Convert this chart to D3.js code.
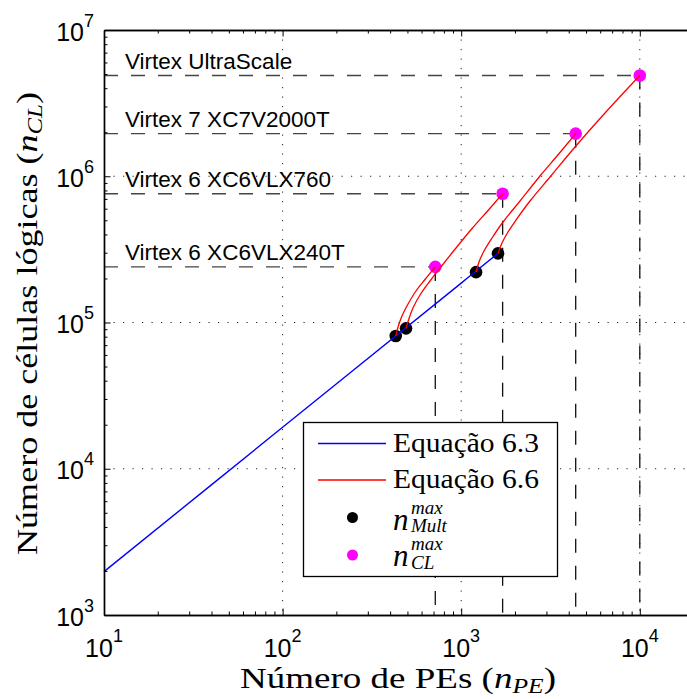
<!DOCTYPE html>
<html lang="pt">
<head>
<meta charset="UTF-8">
<title>Número de células lógicas vs número de PEs</title>
<script src="https://d3js.org/d3.v7.min.js"></script>
<style>
  body { margin: 0; background: #fff; }
  svg { display: block; }
  .sans { font-family: "Liberation Sans", Arial, sans-serif; fill: #000; }
  .serif { font-family: "Liberation Serif", "Times New Roman", serif; fill: #000; }
</style>
</head>
<body>
<svg id="chart" width="687" height="699"></svg>
<script>
// ---- values ----
// Equação 6.3 (blue line)
const eq63PE = [10, 100, 1000, 1607];
const eq63CL = [1980, 19200, 186000, 297000];

// Equação 6.6 (red curves), one per device, from n_Mult^max to n_CL^max
const eq66PE = [
  [430, 443, 466, 504, 558, 627, 716],
  [491, 507, 537, 588, 669, 781, 935, 1150, 1413, 1706],
  [1211, 1258, 1342, 1488, 1714, 2134, 2762, 3439, 4376],
  [1607, 1692, 1828, 2027, 2428, 3143, 4337, 6387, 10000]
];
const eq66CL = [
  [80900, 93200, 110800, 133800, 164200, 196800, 240000],
  [91200, 104000, 125700, 154200, 192200, 245300, 323100, 439100, 583200, 760000],
  [221000, 259300, 308300, 378300, 486700, 677000, 1004000, 1375000, 1955000],
  [297000, 349700, 415800, 502000, 677000, 988000, 1585000, 2707000, 4880000]
];

// n_Mult^max (black) points
const multPE = [430, 491, 1211, 1607];
const multCL = [80900, 91200, 221000, 297000];

// n_CL^max (magenta) points and device names
const devices = ["Virtex 6 XC6VLX240T", "Virtex 6 XC6VLX760", "Virtex 7 XC7V2000T", "Virtex UltraScale"];
const devPE = [716, 1706, 4376, 10000];
const devCL = [240000, 760000, 1955000, 4880000];

// axis decades
const xDecades = [1, 2, 3, 4];
const yDecades = [3, 4, 5, 6, 7];

// ---- layout ----
const plotLeft = 104, plotTop = 30, plotBottom = 615;
const svg = d3.select('#chart');

const x = d3.scaleLog().domain([10, 20000]).range([plotLeft, plotLeft + 178.6 * Math.log10(2000)]);
const y = d3.scaleLog().domain([1e3, 1e7]).range([plotBottom, plotTop]);
const xRight = x.range()[1];

const allX = x.ticks();
const allY = y.ticks();
const isMajor = v => Math.abs(Math.log10(v) - Math.round(Math.log10(v))) < 1e-9;

// grid (dotted, decades only)
const grid = svg.append('g').attr('stroke', '#222').attr('stroke-width', 1)
  .attr('stroke-dasharray', '1.2,8.3');
grid.selectAll('.gx').data(allX.filter(isMajor).filter(v => v > 10))
  .enter().append('line')
  .attr('x1', d => x(d)).attr('x2', d => x(d))
  .attr('y1', plotTop).attr('y2', plotBottom);
grid.selectAll('.gy').data(allY.filter(isMajor).filter(v => v > 1e3 && v < 1e7))
  .enter().append('line')
  .attr('x1', plotLeft).attr('x2', xRight)
  .attr('y1', d => y(d)).attr('y2', d => y(d));

// dashed guides for each device
const guides = svg.append('g').attr('fill', 'none');
devices.forEach((name, i) => {
  guides.append('line')
    .attr('x1', plotLeft).attr('x2', x(devPE[i]))
    .attr('y1', y(devCL[i])).attr('y2', y(devCL[i]))
    .attr('stroke', '#444').attr('stroke-width', 1.4)
    .attr('stroke-dasharray', '14,13');
  guides.append('line')
    .attr('x1', x(devPE[i])).attr('x2', x(devPE[i]))
    .attr('y1', y(devCL[i])).attr('y2', plotBottom)
    .attr('stroke', '#111').attr('stroke-width', 1.3)
    .attr('stroke-dasharray', '14,13');
  svg.append('text').attr('class', 'sans')
    .attr('x', 125).attr('y', y(devCL[i]) - 6.5)
    .style('font-size', '22.5px')
    .text(name);
});

// markers
svg.selectAll('.mult').data(multPE).enter().append('circle')
  .attr('cx', d => x(d)).attr('cy', (d, i) => y(multCL[i]))
  .attr('r', 6.3).attr('fill', '#000');
svg.selectAll('.dev').data(devPE).enter().append('circle')
  .attr('cx', d => x(d)).attr('cy', (d, i) => y(devCL[i]))
  .attr('r', 6.3).attr('fill', '#ff00ff');

// lines
const line = d3.line().x(d => x(d[0])).y(d => y(d[1])).curve(d3.curveCatmullRom.alpha(0.5));
svg.append('path')
  .datum(eq63PE.map((v, i) => [v, eq63CL[i]]))
  .attr('d', line).attr('fill', 'none').attr('stroke', '#0000ff').attr('stroke-width', 1.4);
eq66PE.forEach((pe, k) => {
  svg.append('path')
    .datum(pe.map((v, i) => [v, eq66CL[k][i]]))
    .attr('d', line).attr('fill', 'none').attr('stroke', '#ff0000').attr('stroke-width', 1.3);
});

// axes frame with inward ticks
function drawAxis(axisFn, tr, values, size) {
  svg.append('g').attr('transform', tr)
    .call(axisFn.tickValues(values).tickSize(-size).tickSizeOuter(0).tickFormat(''))
    .call(g => g.selectAll('line').attr('stroke', '#000').attr('stroke-width', 1))
    .call(g => g.select('.domain').attr('stroke', '#000').attr('stroke-width', 1.4));
}
const xMinor = allX.filter(v => !isMajor(v)), xMajor = allX.filter(isMajor);
const yMinor = allY.filter(v => !isMajor(v)), yMajor = allY.filter(isMajor);
drawAxis(d3.axisBottom(x), `translate(0,${plotBottom})`, xMinor, 3.5);
drawAxis(d3.axisBottom(x), `translate(0,${plotBottom})`, xMajor, 6.5);
drawAxis(d3.axisTop(x), `translate(0,${plotTop})`, xMinor, 3.5);
drawAxis(d3.axisTop(x), `translate(0,${plotTop})`, xMajor, 6.5);
drawAxis(d3.axisLeft(y), `translate(${plotLeft},0)`, yMinor, 3.5);
drawAxis(d3.axisLeft(y), `translate(${plotLeft},0)`, yMajor, 6.5);

// tick labels 10^k
xDecades.forEach(k => {
  const t = svg.append('text').attr('class', 'sans')
    .attr('x', x(Math.pow(10, k))).attr('y', 657)
    .attr('text-anchor', 'middle').style('font-size', '25px');
  t.append('tspan').text('10');
  t.append('tspan').attr('dy', -15).style('font-size', '18px').text(k);
});
yDecades.forEach(k => {
  const t = svg.append('text').attr('class', 'sans')
    .attr('x', 94).attr('y', y(Math.pow(10, k)) + 10.5)
    .attr('text-anchor', 'end').style('font-size', '25px');
  t.append('tspan').text('10');
  t.append('tspan').attr('dy', -14).style('font-size', '18px').text(k);
});

// stretch serif text horizontally to the width of the original lettering
function fitWidth(sel, target, ax) {
  const w = sel.node().getBBox().width;
  const s = target / w;
  sel.attr('transform', `translate(${ax},0) scale(${s},1) translate(${-ax},0)`);
}

// axis titles
const xt = svg.append('text').attr('class', 'serif')
  .attr('x', 398).attr('y', 688).attr('text-anchor', 'middle').style('font-size', '29px');
xt.append('tspan').text('Número de PEs (');
xt.append('tspan').style('font-style', 'italic').text('n');
xt.append('tspan').attr('dy', 5).style('font-style', 'italic').style('font-size', '20px').text('PE');
xt.append('tspan').attr('dy', -5).text(')');
fitWidth(xt, 316, 398);

const yg = svg.append('g').attr('transform', 'translate(37,323.5) rotate(-90)');
const yt = yg.append('text').attr('class', 'serif')
  .attr('x', 0).attr('y', 0).attr('text-anchor', 'middle').style('font-size', '29px');
yt.append('tspan').text('Número de células lógicas (');
yt.append('tspan').style('font-style', 'italic').text('n');
yt.append('tspan').attr('dy', 5).style('font-style', 'italic').style('font-size', '20px').text('CL');
yt.append('tspan').attr('dy', -5).text(')');
fitWidth(yt, 463, 0);

// legend
const lg = svg.append('g');
lg.append('rect').attr('x', 303.5).attr('y', 422.5).attr('width', 254).attr('height', 154)
  .attr('fill', '#fff').attr('stroke', '#000').attr('stroke-width', 1.3);
[['#0000ff', 'Equação 6.3', 443.5, 452], ['#ff0000', 'Equação 6.6', 480, 488.5]].forEach(r => {
  lg.append('line').attr('x1', 318).attr('x2', 386).attr('y1', r[2]).attr('y2', r[2])
    .attr('stroke', r[0]).attr('stroke-width', 1.3);
  const t = lg.append('text').attr('class', 'serif').attr('x', 393).attr('y', r[3])
    .style('font-size', '28px').text(r[1]);
  fitWidth(t, 146, 393);
});
[['#000', 'Mult', 517.5, 529.5], ['#ff00ff', 'CL', 555, 566]].forEach(r => {
  lg.append('circle').attr('cx', 352.5).attr('cy', r[2]).attr('r', 5.5).attr('fill', r[0]);
  // n with stacked superscript "max" and subscript, kept in one text element
  const t = lg.append('text').attr('class', 'serif').attr('x', 393).attr('y', r[3])
    .style('font-style', 'italic');
  t.append('tspan').style('font-size', '31px').text('n');
  t.append('tspan').attr('x', 411).attr('dy', -16).style('font-size', '19px').text('max');
  t.append('tspan').attr('x', 411).attr('dy', 18.5).style('font-size', '19px').text(r[1]);
});
</script>
</body>
</html>
